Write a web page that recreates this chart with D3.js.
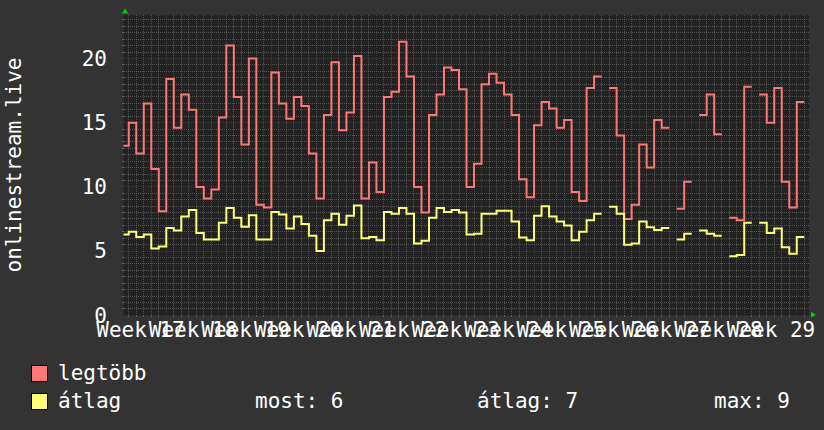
<!DOCTYPE html>
<html>
<head>
<meta charset="utf-8">
<script src="https://cdn.jsdelivr.net/npm/d3@7"></script>
<style>
  body { margin: 0; background: #333333; }
  svg { display: block; font-family: "DejaVu Sans Mono", monospace; }
</style>
</head>
<body>
<div id="chart"></div>
<script>
// one value per day, first entry is the Tuesday of week 17, null = no data
const legtobb = [
  13.2, 15.0, 12.6, 16.5, 11.4, 8.1,
  18.4, 14.6, 17.2, 16.0, 10.0, 9.1, 9.8,
  15.4, 21.0, 17.0, 13.3, 20.0, 8.6, 8.4,
  18.9, 16.5, 15.3, 17.0, 16.3, 12.6, 9.1,
  15.6, 19.7, 14.4, 15.8, 20.2, 9.1, 11.9,
  9.6, 17.0, 17.4, 21.3, 18.6, 10.0, 8.0,
  15.6, 17.2, 19.3, 19.1, 17.6, 10.0, 11.8,
  18.0, 18.8, 18.1, 17.2, 15.6, 10.6, 9.2,
  14.8, 16.6, 16.1, 14.6, 15.2, 9.6, 8.9,
  17.7, 18.6, null, 17.7, 14.0, 7.5, 8.6,
  13.3, 11.5, 15.2, 14.6, null, 8.3, 10.4,
  null, 15.6, 17.2, 14.1, null, 7.6, 7.4,
  17.8, null, 17.2, 15.0, 17.7, 10.4, 8.4,
  16.6
];
const atlag = [
  6.3, 6.5, 6.1, 6.3, 5.2, 5.35,
  6.8, 6.6, 7.7, 8.2, 6.4, 5.9, 5.9,
  7.2, 8.35, 7.6, 6.9, 7.8, 5.9, 5.9,
  8.05, 7.85, 6.75, 7.7, 7.1, 6.2, 5.0,
  7.4, 7.9, 7.05, 7.75, 8.55, 6.0, 6.1,
  5.85, 8.05, 7.9, 8.35, 7.9, 5.6, 5.8,
  7.6, 8.35, 8.05, 8.2, 8.0, 6.3, 6.35,
  7.9, 7.9, 8.15, 8.15, 7.3, 6.05, 5.85,
  7.75, 8.5, 7.7, 7.3, 7.0, 5.85, 6.5,
  7.4, 7.9, null, 8.45, 7.9, 5.5, 5.6,
  7.3, 6.85, 6.65, 6.8, null, 5.9, 6.35,
  null, 6.6, 6.35, 6.2, null, 4.6, 4.7,
  7.2, null, 7.2, 6.4, 6.75, 5.3, 4.8,
  6.1
];
const weeks = [17, 18, 19, 20, 21, 22, 23, 24, 25, 26, 27, 28, 29];
const yTicks = [0, 5, 10, 15, 20];
const statNames = ["most", "átlag", "max"];
const statValues = [6, 7, 9];

const firstDay = -6; // days counted from Monday of week 18
const plot = {left: 123.5, right: 809, top: 15.3, bottom: 315.3};

const svg = d3.select("#chart")
    .append("svg")
    .attr("width", 824)
    .attr("height", 430);

svg.append("rect")
    .attr("width", 824).attr("height", 430)
    .attr("fill", "#333333");

// x in days, y in viewers
const x = d3.scaleLinear()
    .domain([-5.7, 85.63])
    .range([plot.left, plot.right]);
const y = d3.scaleLinear()
    .domain([0, 23.36])
    .range([plot.bottom, plot.top]);

svg.append("rect")
    .attr("x", plot.left).attr("y", plot.top)
    .attr("width", plot.right - plot.left)
    .attr("height", plot.bottom - plot.top)
    .attr("fill", "#222222");

svg.append("clipPath").attr("id", "clip")
    .append("rect")
    .attr("x", plot.left).attr("y", plot.top)
    .attr("width", plot.right - plot.left)
    .attr("height", plot.bottom - plot.top);

// grid
const minorY = d3.range(0.5, 23.36, 0.5).filter(v => v % 5 !== 0);
const majorY = yTicks.filter(v => v > 0);
const minorX = d3.range(-5, 86).filter(d => d % 7 !== 0);
const majorX = d3.range(0, 86, 7);
const minorCol = "rgba(128,128,128,0.5)";
const majorCol = "rgba(255,40,40,0.32)";

const grid = svg.append("g").attr("shape-rendering", "crispEdges");
grid.selectAll(".hmin").data(minorY).join("line")
    .attr("x1", plot.left).attr("x2", plot.right)
    .attr("y1", d => y(d)).attr("y2", d => y(d))
    .attr("stroke", minorCol).attr("stroke-dasharray", "1,1");
grid.selectAll(".vmin").data(minorX).join("line")
    .attr("x1", d => x(d)).attr("x2", d => x(d))
    .attr("y1", plot.top).attr("y2", plot.bottom)
    .attr("stroke", minorCol).attr("stroke-dasharray", "1,1");
grid.selectAll(".hmaj").data(majorY).join("line")
    .attr("x1", plot.left - 3).attr("x2", plot.right)
    .attr("y1", d => y(d)).attr("y2", d => y(d))
    .attr("stroke", majorCol).attr("stroke-dasharray", "1,1");
grid.selectAll(".vmaj").data(majorX).join("line")
    .attr("x1", d => x(d)).attr("x2", d => x(d))
    .attr("y1", plot.top).attr("y2", plot.bottom + 3)
    .attr("stroke", majorCol).attr("stroke-dasharray", "1,1");

// small ticks outside the canvas
grid.selectAll(".tx").data(minorX).join("line")
    .attr("x1", d => x(d)).attr("x2", d => x(d))
    .attr("y1", plot.bottom).attr("y2", plot.bottom + 2)
    .attr("stroke", "#606060");
grid.selectAll(".ty").data(minorY).join("line")
    .attr("x1", plot.left - 2).attr("x2", plot.left)
    .attr("y1", d => y(d)).attr("y2", d => y(d))
    .attr("stroke", "#606060");

// Y axis labels
svg.append("g")
    .attr("transform", `translate(${plot.left},0)`)
    .call(d3.axisLeft(y).tickValues(yTicks).tickSize(0).tickPadding(16.5))
    .call(g => g.select(".domain").remove())
    .selectAll("text")
    .attr("fill", "#ffffff")
    .style("font-size", "21px")
    .style("font-family", "DejaVu Sans Mono");

// X axis labels, centred on each week
svg.append("g")
    .attr("transform", `translate(0,${plot.bottom})`)
    .call(d3.axisBottom(x)
        .tickValues(weeks.map(w => (w - 18) * 7 + 3.5))
        .tickFormat((d, i) => "Week " + weeks[i])
        .tickSize(0).tickPadding(7))
    .call(g => g.select(".domain").remove())
    .selectAll("text")
    .attr("fill", "#ffffff")
    .style("font-size", "21px")
    .style("font-family", "DejaVu Sans Mono");

// series as daily steps
function stepPoints(values) {
    return values.flatMap((v, i) => [
        {d: firstDay + i, v: v},
        {d: firstDay + i + 1, v: v}
    ]);
}
const line = d3.line()
    .defined(p => p.v !== null)
    .x(p => x(p.d))
    .y(p => y(p.v));

const series = [
    {name: "legtöbb", values: legtobb, color: "#ff7777"},
    {name: "átlag", values: atlag, color: "#ffff77"}
];

svg.append("g").attr("clip-path", "url(#clip)")
    .selectAll("path").data(series).join("path")
    .attr("d", s => line(stepPoints(s.values)))
    .attr("fill", "none")
    .attr("stroke", s => s.color)
    .attr("stroke-width", 2)
    .attr("stroke-linejoin", "miter");

// axis arrows
svg.append("path")
    .attr("d", `M${plot.left + 1.5},8.5 L${plot.left - 2},13.5 L${plot.left + 5},13.5 Z`)
    .attr("fill", "#00cc00");
svg.append("path")
    .attr("d", `M${plot.right + 7},${plot.bottom - 0.5} L${plot.right + 2},${plot.bottom - 3.5} L${plot.right + 2},${plot.bottom + 2.5} Z`)
    .attr("fill", "#00cc00");

// y title
svg.append("text")
    .attr("transform", "translate(21,165) rotate(-90)")
    .attr("text-anchor", "middle")
    .attr("fill", "#ffffff")
    .style("font-size", "21px")
    .text("onlinestream.live");

// legend
const legend = svg.append("g");
series.forEach((s, i) => {
    legend.append("rect")
        .attr("x", 31.5).attr("y", 365.5 + i * 28)
        .attr("width", 16).attr("height", 16)
        .attr("fill", s.color)
        .attr("stroke", "#000000");
    legend.append("text")
        .attr("x", 58).attr("y", 379.5 + i * 28)
        .attr("fill", "#ffffff")
        .style("font-size", "21px")
        .text(s.name);
});
const statX = [255, 477, 714];
statNames.forEach((n, i) => {
    legend.append("text")
        .attr("x", statX[i]).attr("y", 407.5)
        .attr("fill", "#ffffff")
        .style("font-size", "21px")
        .text(n + ": " + statValues[i]);
});
</script>
</body>
</html>
